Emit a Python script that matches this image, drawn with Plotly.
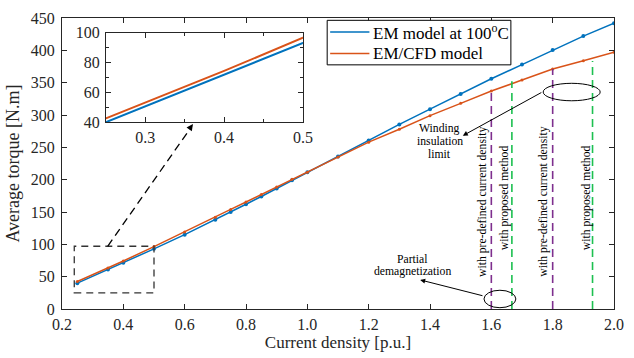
import plotly.graph_objects as go

# ---------------- data ----------------
current_density = [0.25, 0.35, 0.4, 0.5, 0.6, 0.7, 0.75, 0.8, 0.85, 0.9, 0.95, 1.0,
                   1.1, 1.2, 1.3, 1.4, 1.5, 1.6, 1.7, 1.8, 1.9, 2.0]
torque_em100 = [40, 61, 71.5, 93, 115, 138, 150, 162, 174, 186.5, 199, 211.5,
                236, 260.5, 285.5, 309, 332.5, 356, 378, 400.5, 422, 442]
torque_emcfd = [42.5, 63.5, 74.3, 96.5, 119, 142, 154, 165.5, 177, 188.5, 200.5, 211.5,
                235, 258, 278, 299, 318, 337, 354, 371, 384, 397]
series_names = ["EM model at 100<sup>o</sup>C", "EM/CFD model"]

limit_x = [1.6, 1.667, 1.8, 1.93]          # vertical limits
limit_y = [336, 352, 371, 383.5]
limit_kind = ["pre", "prop", "pre", "prop"]
limit_text = {"pre": "with pre-defined current density", "prop": "with proposed method"}

x_ticks = [0.2, 0.4, 0.6, 0.8, 1.0, 1.2, 1.4, 1.6, 1.8, 2.0]
y_ticks = [0, 50, 100, 150, 200, 250, 300, 350, 400, 450]
inset_x_ticks = [0.3, 0.4, 0.5]
inset_y_ticks = [40, 60, 80, 100]

BLUE = "#0072BD"
ORANGE = "#D95319"
PURPLE = "#7E2F8E"
GREEN = "#1DC050"
AX = "#262626"
FONT = "Liberation Serif"

fig = go.Figure()

# main traces
fig.add_trace(go.Scatter(x=current_density, y=torque_em100, mode="lines+markers",
                         name=series_names[0], line=dict(color=BLUE, width=1.5),
                         marker=dict(size=4, color=BLUE)))
fig.add_trace(go.Scatter(x=current_density, y=torque_emcfd, mode="lines+markers",
                         name=series_names[1], line=dict(color=ORANGE, width=1.5),
                         marker=dict(size=3, color=ORANGE)))

# inset traces
fig.add_trace(go.Scatter(x=current_density, y=torque_em100, mode="lines", xaxis="x2", yaxis="y2",
                         showlegend=False, line=dict(color=BLUE, width=2)))
fig.add_trace(go.Scatter(x=current_density, y=torque_emcfd, mode="lines", xaxis="x2", yaxis="y2",
                         showlegend=False, line=dict(color=ORANGE, width=2)))

shapes = []
# vertical dashed limit lines
for xv, yv, kind in zip(limit_x, limit_y, limit_kind):
    shapes.append(dict(type="line", xref="x", yref="y", x0=xv, x1=xv, y0=0, y1=yv,
                       line=dict(color=PURPLE if kind == "pre" else GREEN, width=1.6,
                                 dash="8px,5px")))
# zoom rectangle
shapes.append(dict(type="rect", xref="x", yref="y", x0=0.24, x1=0.5, y0=25, y1=97,
                   line=dict(color="#333333", width=1.3, dash="7px,5px")))
# dashed connector line
shapes.append(dict(type="line", xref="x", yref="y", x0=0.349, y0=97, x1=0.615, y1=277,
                   line=dict(color="black", width=1.3, dash="8px,5px")))
# ellipses
shapes.append(dict(type="circle", xref="x", yref="y", x0=1.769, x1=1.955, y0=322, y1=349,
                   line=dict(color="black", width=1)))
shapes.append(dict(type="circle", xref="x", yref="y", x0=1.576, x1=1.68, y0=2, y1=29,
                   line=dict(color="black", width=1)))

# manual legend (paper coordinates)
legend_box = dict(x0=0.4804, x1=0.8132, y0=0.839, y1=0.992)
legend_rows_y = [0.9515, 0.8779]
legend_colors = [BLUE, ORANGE]
shapes.append(dict(type="rect", xref="paper", yref="paper", fillcolor="white",
                   line=dict(color="black", width=1), **legend_box))
annotations = []
for ly, col, name in zip(legend_rows_y, legend_colors, series_names):
    shapes.append(dict(type="line", xref="paper", yref="paper", x0=0.4858, x1=0.5569,
                       y0=ly, y1=ly, line=dict(color=col, width=1.5)))
    annotations.append(dict(x=0.5605, y=ly, xref="paper", yref="paper", text=name,
                            xanchor="left", yanchor="middle", showarrow=False,
                            font=dict(family=FONT, size=17, color="black")))

# vertical text labels
text_pos = [(1.5706, 166), (1.643, 172), (1.772, 166), (1.910, 172)]
for (tx, ty), kind in zip(text_pos, limit_kind):
    annotations.append(dict(x=tx, y=ty, xref="x", yref="y", text=limit_text[kind],
                            textangle=-90, showarrow=False,
                            font=dict(family=FONT, size=11.7, color="black")))
for txt, ty in zip(["Winding", "insulation", "limit"], [279, 258.5, 239]):
    annotations.append(dict(x=1.432, y=ty, xref="x", yref="y", text=txt, showarrow=False,
                            font=dict(family=FONT, size=11.7, color="black")))
for txt, ty in zip(["Partial", "demagnetization"], [77, 57.5]):
    annotations.append(dict(x=1.343, y=ty, xref="x", yref="y", text=txt, showarrow=False,
                            font=dict(family=FONT, size=11.7, color="black")))
# arrows
annotations.append(dict(x=1.507, y=268, ax=1.768, ay=336, xref="x", yref="y",
                        axref="x", ayref="y", text="", showarrow=True, arrowhead=2,
                        arrowsize=1, arrowwidth=1, arrowcolor="black"))
annotations.append(dict(x=1.368, y=45, ax=1.576, ay=20, xref="x", yref="y",
                        axref="x", ayref="y", text="", showarrow=True, arrowhead=2,
                        arrowsize=1, arrowwidth=1, arrowcolor="black"))
annotations.append(dict(x=0.627, y=286, ax=0.612, ay=276, xref="x", yref="y",
                        axref="x", ayref="y", text="", showarrow=True, arrowhead=2,
                        arrowsize=1, arrowwidth=1.3, arrowcolor="black"))

axis_common = dict(showgrid=False, zeroline=False, showline=True, linecolor=AX, linewidth=1,
                   mirror="ticks", ticks="inside", ticklen=5, tickcolor=AX,
                   tickfont=dict(family=FONT, size=16, color=AX))

fig.update_layout(
    width=634, height=358,
    margin=dict(l=62, r=10, t=14, b=45),
    paper_bgcolor="white", plot_bgcolor="white",
    font=dict(family=FONT, size=16, color=AX),
    showlegend=False,
    xaxis=dict(range=[0.2, 2.0], tickvals=x_ticks, ticktext=[f"{v:.1f}" for v in x_ticks],
               title=dict(text="Current density [p.u.]", standoff=3,
                          font=dict(family=FONT, size=17, color=AX)),
               ticklabelstandoff=1, **axis_common),
    yaxis=dict(range=[0, 450], tickvals=y_ticks,
               title=dict(text="Average torque [N.m]", standoff=6,
                          font=dict(family=FONT, size=18, color=AX)),
               ticklabelstandoff=3, **axis_common),
    xaxis2=dict(domain=[0.0795, 0.4365], anchor="y2", range=[0.25, 0.5], tickvals=inset_x_ticks,
                ticktext=[f"{v:.1f}" for v in inset_x_ticks],
                minor=dict(tickvals=[0.25, 0.35, 0.45], ticks="inside", ticklen=3, tickcolor=AX),
                ticklabelstandoff=1, **axis_common),
    yaxis2=dict(domain=[0.642, 0.950], anchor="x2", range=[40, 100], tickvals=inset_y_ticks,
                minor=dict(tickvals=[50, 70, 90], ticks="inside", ticklen=3, tickcolor=AX),
                ticklabelstandoff=2, **axis_common),
    shapes=shapes,
    annotations=annotations,
)

# inset background (white)
fig.add_shape(type="rect", xref="paper", yref="paper", x0=0.0795, x1=0.4365, y0=0.642, y1=0.950,
              fillcolor="white", line=dict(width=0), layer="below")

fig.write_html("out.html")
